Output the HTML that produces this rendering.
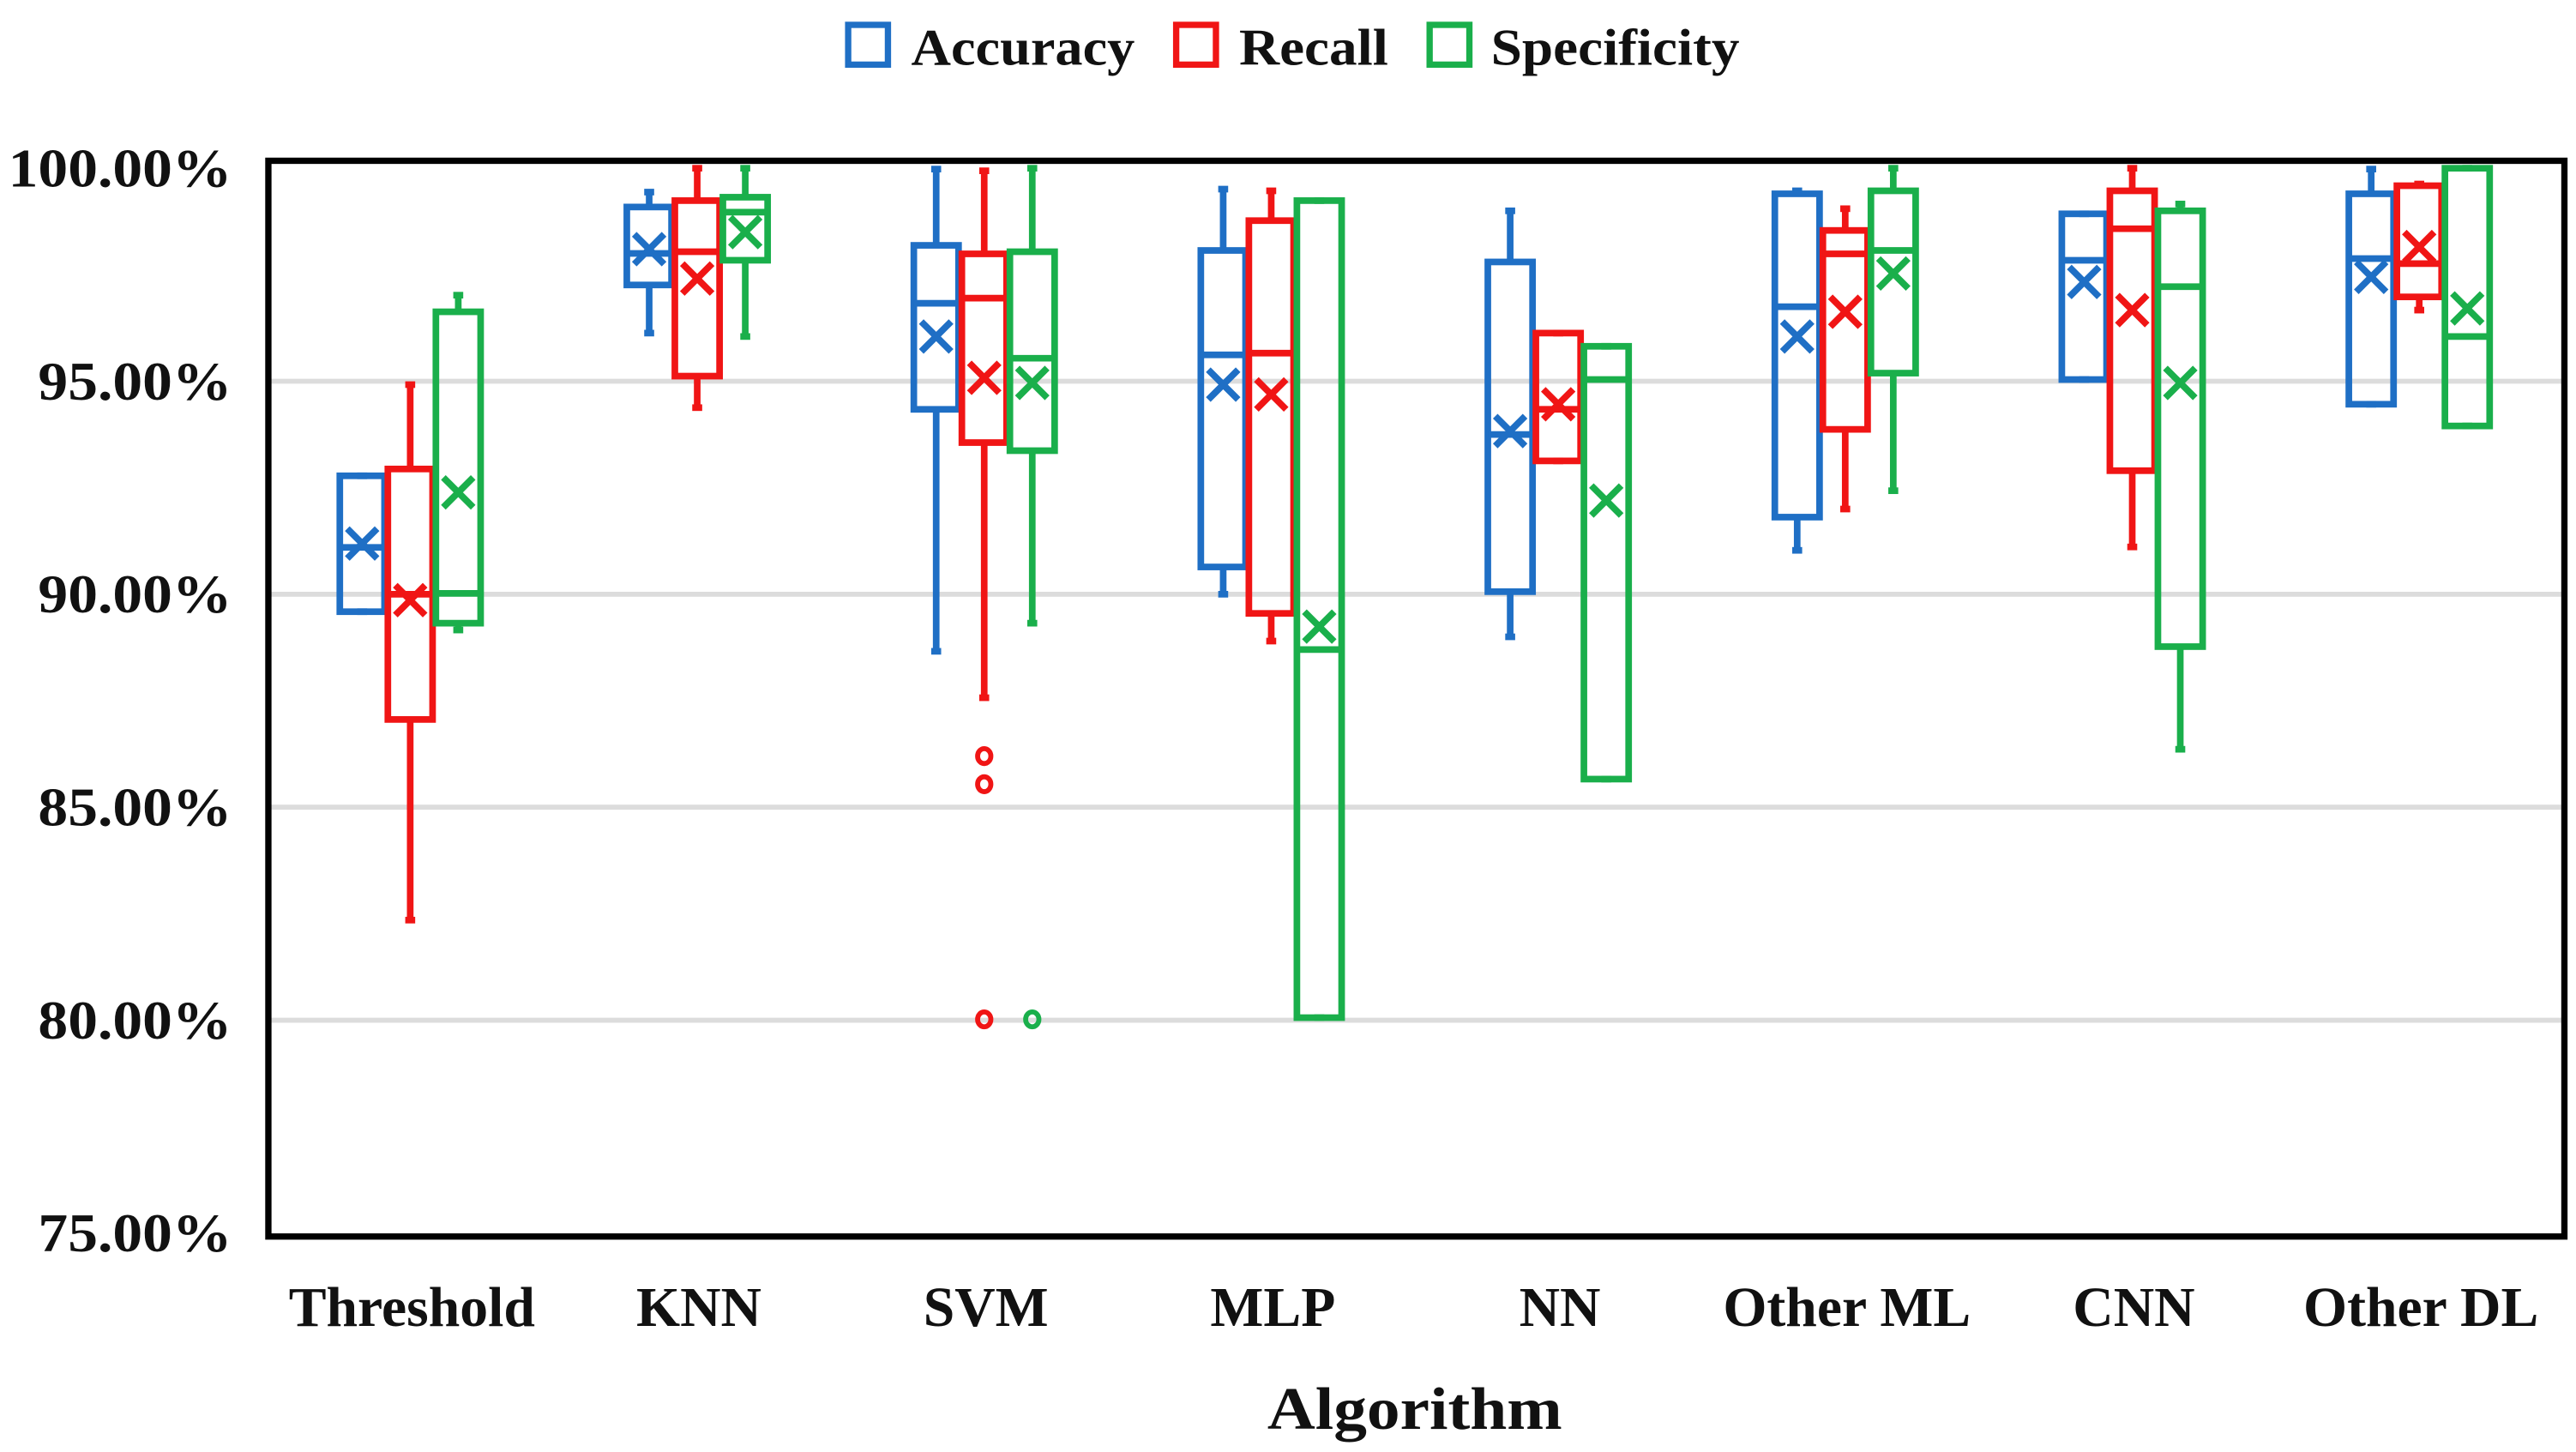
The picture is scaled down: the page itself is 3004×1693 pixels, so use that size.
<!DOCTYPE html>
<html><head><meta charset="utf-8"><style>
html,body{margin:0;padding:0;background:#fff}
svg{display:block}
text{font-family:"Liberation Serif",serif;font-weight:bold;fill:#111}
</style></head><body>
<svg id="chart" width="3004" height="1693" viewBox="0 0 1555 876" preserveAspectRatio="none" xmlns="http://www.w3.org/2000/svg">
<g id="legend">
 <g><rect x="512" y="15" width="24" height="24" fill="none" stroke="#1f6fc5" stroke-width="3.8"/><text x="550" y="39" font-size="31" textLength="135" lengthAdjust="spacingAndGlyphs">Accuracy</text></g>
 <g><rect x="710" y="15" width="24" height="24" fill="none" stroke="#f01515" stroke-width="3.8"/><text x="748" y="39" font-size="31" textLength="90" lengthAdjust="spacingAndGlyphs">Recall</text></g>
 <g><rect x="863" y="15" width="24" height="24" fill="none" stroke="#1aaf4b" stroke-width="3.8"/><text x="900" y="39" font-size="31" textLength="150" lengthAdjust="spacingAndGlyphs">Specificity</text></g>
</g>
<g id="grid"></g>
<g id="yticks"></g>
<g id="xticks"></g>
<g id="boxes"></g>
<rect x="162" y="97" width="1386" height="649" fill="none" stroke="#000" stroke-width="3.8"/>
<text x="765" y="862" font-size="36" textLength="178" lengthAdjust="spacingAndGlyphs">Algorithm</text>
</svg>
<script>
const categories = ["Threshold","KNN","SVM","MLP","NN","Other ML","CNN","Other DL"];
const yTicks = [75,80,85,90,95,100];
const yTickLabels = ["75.00%","80.00%","85.00%","90.00%","95.00%","100.00%"];
// each: [min, q1, median, q3, max, mean]
const accuracy = [
 [89.59,89.59,91.1,92.78,92.78,91.19],
 [96.13,97.26,98.0,99.09,99.44,98.1],
 [88.66,94.34,96.83,98.19,99.98,96.05],
 [90.0,90.64,95.62,98.07,99.51,94.92],
 [89.0,90.06,93.75,97.80,99.0,93.83],
 [91.03,91.81,96.75,99.40,99.47,96.05],
 [95.04,95.04,97.84,98.93,98.93,97.33],
 [94.46,94.46,97.88,99.40,99.98,97.45]
];
const recall = [
 [82.35,87.06,90.0,92.94,94.92,89.86],
 [94.38,95.12,98.04,99.24,100,97.41],
 [87.57,93.56,96.95,97.99,99.94,95.08],
 [88.9,89.55,95.66,98.77,99.47,94.69],
 [93.13,93.13,94.34,96.13,96.13,94.46],
 [92.0,93.87,97.99,98.54,99.05,96.63],
 [91.11,92.90,98.58,99.47,100,96.67],
 [96.67,96.98,97.76,99.59,99.63,98.15]
];
const specificity = [
 [89.16,89.32,90.02,96.63,97.02,92.39],
 [96.05,97.84,98.97,99.32,100,98.5],
 [89.32,93.37,95.54,98.04,100,94.96],
 [80.06,80.06,88.7,99.24,99.24,89.24],
 [85.66,85.66,95.04,95.82,95.82,92.2],
 [92.43,95.19,98.07,99.47,100,97.53],
 [86.36,88.77,97.22,99.0,99.16,94.96],
 [93.95,93.95,96.05,100,100,96.71]
];
const recallOutliers = [[2,86.2],[2,85.54],[2,80.02]];
const specificityOutliers = [[2,80.02]];

const NS="http://www.w3.org/2000/svg";
const PL=162, PR=1548;
function y(v){return 744-(v-75)*25.7;}
function xc(i){return PL+(PR-PL)/categories.length*(i+0.5);}
function mk(tag,attrs,parent){const e=document.createElementNS(NS,tag);for(const k in attrs)e.setAttribute(k,attrs[k]);parent.appendChild(e);return e;}
const grid=document.getElementById('grid'), yt=document.getElementById('yticks'), xt=document.getElementById('xticks'), bx=document.getElementById('boxes');
yTicks.forEach((v,i)=>{
 if(v>75&&v<100){const l=mk('line',{x1:PL,x2:PR,y1:y(v),y2:y(v),stroke:'#dcdcdc','stroke-width':3},grid);
 
 }
 const t=mk('text',{x:140,y:y(v)+11,'font-size':33,'text-anchor':'end',textLength:(v===100?135:117),lengthAdjust:'spacingAndGlyphs'},yt);t.textContent=yTickLabels[i];
 
 
});
categories.forEach((c,i)=>{
 const t=mk('text',{x:xc(i),y:800,'font-size':34,'text-anchor':'middle'},xt);t.textContent=c;
 
 
});
const series=[[accuracy,'#1f6fc5',-30,'accuracy'],[recall,'#f01515',-1,'recall'],[specificity,'#1aaf4b',28,'specificity']];
const hw=13.5;
series.forEach(([data,col,off,nm])=>{
 data.forEach((d,i)=>{
  const cx=xc(i)+off;
  const g=mk('g',{stroke:col,'stroke-width':4,fill:'none'},bx);
  
  
  mk('line',{x1:cx,x2:cx,y1:y(d[4]),y2:y(d[3])},g);
  mk('line',{x1:cx,x2:cx,y1:y(d[1]),y2:y(d[0])},g);
  mk('line',{x1:cx-3,x2:cx+3,y1:y(d[4]),y2:y(d[4])},g);
  mk('line',{x1:cx-3,x2:cx+3,y1:y(d[0]),y2:y(d[0])},g);
  mk('rect',{x:cx-hw,y:y(d[3]),width:hw*2,height:y(d[1])-y(d[3])},g);
  mk('line',{x1:cx-hw,x2:cx+hw,y1:y(d[2]),y2:y(d[2])},g);
  const my=y(d[5]);
  mk('path',{d:`M${cx-9} ${my-9}L${cx+9} ${my+9}M${cx+9} ${my-9}L${cx-9} ${my+9}`},g);
 });
});
[[recallOutliers,'#f01515',-1],[specificityOutliers,'#1aaf4b',28]].forEach(([arr,col,off])=>{
 arr.forEach(([i,v])=>{
  const c=mk('ellipse',{cx:xc(i)+off,cy:y(v),rx:4,ry:4.5,fill:'none',stroke:col,'stroke-width':3},bx);
  
  
 });
});
</script>
</body></html>
